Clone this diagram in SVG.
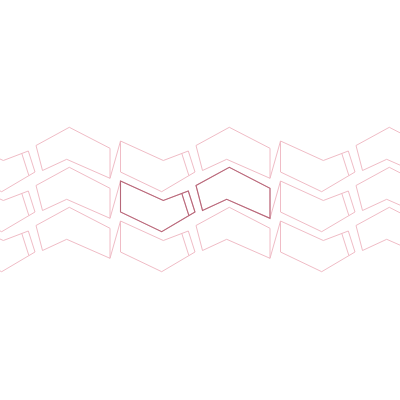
<svg xmlns="http://www.w3.org/2000/svg" xmlns:xlink="http://www.w3.org/1999/xlink" width="400" height="400" viewBox="0 0 400 400">
<style>
.t{fill:none;stroke:#f0bcc6;stroke-width:1;stroke-linejoin:miter}
.h{fill:none;stroke:#b7687a;stroke-width:1.1;stroke-linejoin:miter}
</style>
<defs>
<g id="tileA">
<polygon points="120.5,181 163.3,200.5 188.3,191 195,212 161.7,231.7 120.5,212"/>
<line x1="181.7" y1="193.2" x2="188.9" y2="215.6"/>
</g>
<g id="tileB">
<polygon points="196,185.5 229.3,167.3 270,188.3 270,218.3 226.7,199.3 202.5,210.5"/>
</g>
<g id="link">
<line x1="270" y1="218.3" x2="280.5" y2="181"/>
</g>
<g id="cell">
<use xlink:href="#tileA"/>
<use xlink:href="#tileB"/>
<use xlink:href="#link"/>
</g>
</defs>
<rect width="400" height="400" fill="#ffffff"/>
<g id="pattern" class="t">
<use xlink:href="#cell" transform="translate(-160,-40)"/>
<use xlink:href="#cell" transform="translate(0,-40)"/>
<use xlink:href="#cell" transform="translate(160,-40)"/>
<use xlink:href="#cell" transform="translate(-160,0)"/>
<use xlink:href="#cell" transform="translate(0,0)"/>
<use xlink:href="#cell" transform="translate(160,0)"/>
<use xlink:href="#cell" transform="translate(-160,40)"/>
<use xlink:href="#cell" transform="translate(0,40)"/>
<use xlink:href="#cell" transform="translate(160,40)"/>
</g>
<g id="highlightA" class="h"><use xlink:href="#tileA"/></g>
<g id="highlightB" class="h"><use xlink:href="#tileB"/></g>
</svg>
